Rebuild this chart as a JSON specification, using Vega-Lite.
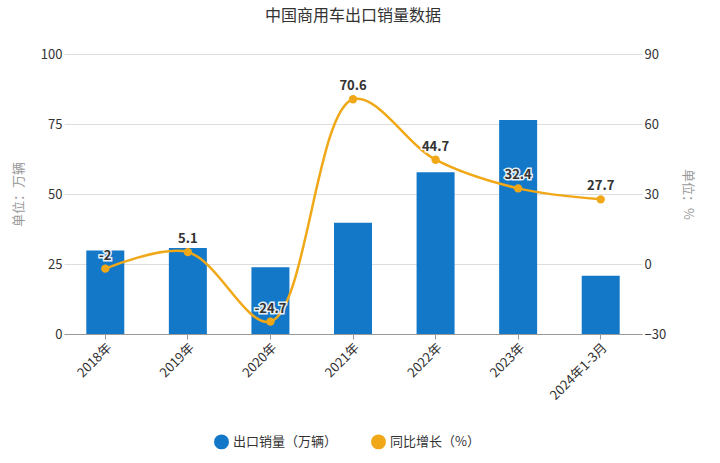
{
  "$schema": "https://vega.github.io/schema/vega-lite/v6.json",
  "width": 578,
  "height": 280,
  "padding": {"left": 12, "top": 8, "right": 5, "bottom": 5},
  "background": "white",
  "title": {"text": "中国商用车出口销量数据", "fontSize": 16, "fontWeight": "normal", "color": "#333", "font": "Noto Sans CJK SC", "offset": 24},
  "config": {"font": "Noto Sans CJK SC", "view": {"stroke": null}},
  "data": {"values": [
    {"year": "2018年", "sales": 29.8, "yoy": -2},
    {"year": "2019年", "sales": 30.7, "yoy": 5.1},
    {"year": "2020年", "sales": 23.8, "yoy": -24.7},
    {"year": "2021年", "sales": 39.7, "yoy": 70.6},
    {"year": "2022年", "sales": 57.8, "yoy": 44.7},
    {"year": "2023年", "sales": 76.4, "yoy": 32.4},
    {"year": "2024年1-3月", "sales": 20.8, "yoy": 27.7}
  ]},
  "encoding": {
    "x": {"field": "year", "type": "nominal", "sort": null, "title": null,
      "axis": {"labelAngle": -45, "labelFontSize": 13, "labelColor": "#333", "domainColor": "#999", "tickColor": "#999"}}
  },
  "layer": [
    {
      "mark": {"type": "bar", "width": 38},
      "encoding": {
        "y": {"field": "sales", "type": "quantitative", "scale": {"domain": [0, 100]},
          "axis": {"values": [0, 25, 50, 75, 100], "title": "单位：万辆", "titleColor": "#999", "titleFontWeight": "normal", "titleFontSize": 13, "labelFontSize": 13, "labelColor": "#333", "domain": false, "ticks": false, "gridColor": "#ddd", "titlePadding": 15}},
        "color": {"datum": "出口销量（万辆）", "type": "nominal",
          "scale": {"domain": ["出口销量（万辆）", "同比增长（%）"], "range": ["#1478c8", "#f0a818"]},
          "legend": {"orient": "none", "legendX": 150, "legendY": 380, "direction": "horizontal", "title": null, "labelFontSize": 13, "labelColor": "#333", "columnPadding": 30,
            "symbolType": "circle", "symbolSize": 180, "symbolOpacity": 1}}
      }
    },
    {
      "mark": {"type": "line", "strokeWidth": 2.5, "interpolate": "catmull-rom", "point": {"filled": true, "size": 70, "opacity": 1}},
      "encoding": {
        "y": {"field": "yoy", "type": "quantitative", "scale": {"domain": [-30, 90]},
          "axis": {"orient": "right", "values": [-30, 0, 30, 60, 90], "title": "单位：%", "titleAngle": 90, "titleColor": "#999", "titleFontWeight": "normal", "titleFontSize": 13, "labelFontSize": 13, "labelColor": "#333", "domain": false, "ticks": false, "grid": false, "titlePadding": 15}},
        "color": {"datum": "同比增长（%）", "type": "nominal"}
      }
    },
    {
      "mark": {"type": "text", "dy": -13, "fontSize": 13, "fontWeight": "bold", "fill": "#333", "stroke": "white", "strokeWidth": 3, "strokeOpacity": 0.9},
      "encoding": {"y": {"field": "yoy", "type": "quantitative", "scale": {"domain": [-30, 90]}, "axis": null}, "text": {"field": "yoy"}}
    },
    {
      "mark": {"type": "text", "dy": -13, "fontSize": 13, "fontWeight": "bold", "fill": "#333"},
      "encoding": {"y": {"field": "yoy", "type": "quantitative", "scale": {"domain": [-30, 90]}, "axis": null}, "text": {"field": "yoy"}}
    }
  ],
  "resolve": {"scale": {"y": "independent"}}
}
